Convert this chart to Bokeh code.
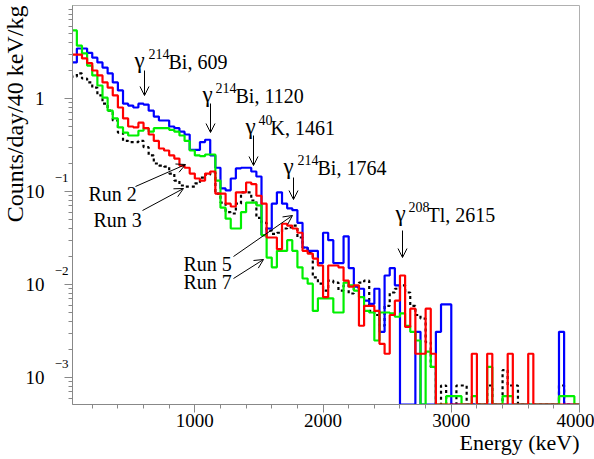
import math
from bokeh.plotting import figure
from bokeh.models import Label, Arrow, OpenHead, FixedTicker, Range1d, LogAxis, Title
from bokeh.embed import file_html
from bokeh.resources import INLINE

# ---------------- data (counts/day/40 keV/kg), bins of 40 keV starting at 0 keV -------------
bin_edges_kev = list(range(0, 4001, 40))

run2_red = [1.0,
    2.97, 2.97, 2.7, 2.4, 2.0, 1.77, 1.49, 1.31, 1.08, 0.8,
    0.61, 0.5, 0.49, 0.55, 0.48, 0.41, 0.35, 0.29, 0.276, 0.244,
    0.226, 0.19, 0.18, 0.156, 0.138, 0.131, 0.156, 0.164, 0.095, 0.095,
    0.074, 0.069, 0.098, 0.098, 0.125, 0.12, 0.09, 0.074, 0.032, 0.032,
    0.024, 0.045, 0.043, 0.04, 0.036, 0.023, 0.0215, 0.019, 0.016, 0.0073,
    0.016, 0.016, 0.0153, 0.011, 0.0095, 0.0098, 0.0036, 0.0059, 0.0059, 0.0052,
    0.0023, 0.0018, 0.0047, 0.0067, 0.0125, 0.0035, 0.0055, 0.0018, 0.0018, 0.0055,
    0.0018, 0, 0, 0, 0, 0, 0, 0, 0.0018, 0,
    0, 0.0018, 0, 0, 0, 0.0018, 0, 0, 0, 0.0018,
    0, 0, 0, 0, 0, 0, 0, 0, 0]

run3_black = [0.9,
    1.72, 1.86, 1.64, 1.49, 1.31, 1.08, 0.88, 0.74, 0.58, 0.43,
    0.35, 0.34, 0.34, 0.35, 0.3, 0.244, 0.2, 0.19, 0.185, 0.156,
    0.131, 0.116, 0.113, 0.113, 0.122, 0.141, 0.152, 0.16, 0.095, 0.076,
    0.06, 0.058, 0.074, 0.098, 0.098, 0.08, 0.052, 0.046, 0.038, 0.035,
    0.036, 0.04, 0.041, 0.043, 0.032, 0.025, 0.022, 0.0119, 0.0102, 0.0086,
    0.011, 0.0105, 0.0086, 0.0098, 0.008, 0.0093, 0.0105, 0.011, 0.0052, 0.0047,
    0.0036, 0.0059, 0.0082, 0.009, 0.0098, 0.0082, 0.0059, 0.0047, 0.0043, 0.0024,
    0.0013, 0, 0.00082, 0, 0, 0.00082, 0.00082, 0, 0, 0,
    0, 0.00082, 0, 0, 0.0012, 0.00082, 0.00082, 0, 0, 0,
    0, 0, 0, 0, 0, 0.00082, 0, 0, 0]

run5_blue = [4.2,
    2.44, 3.45, 3.45, 3.1, 2.75, 2.44, 2.15, 1.86, 1.49, 1.22,
    0.88, 0.84, 0.8, 0.88, 0.86, 0.74, 0.64, 0.58, 0.58, 0.5,
    0.48, 0.44, 0.41, 0.28, 0.28, 0.34, 0.36, 0.244, 0.18, 0.108,
    0.103, 0.138, 0.177, 0.18, 0.18, 0.164, 0.145, 0.034, 0.04, 0.074,
    0.098, 0.074, 0.066, 0.063, 0.046, 0.025, 0.023, 0.023, 0.017, 0.036,
    0.03, 0.017, 0.017, 0.033, 0.015, 0.0095, 0.009, 0.0067, 0.0062, 0.009,
    0.0031, 0.0125, 0.015, 0.0098, 0, 0, 0, 0.0031, 0, 0,
    0, 0.0031, 0.0061, 0.0061, 0, 0, 0, 0, 0, 0,
    0, 0, 0, 0, 0, 0, 0, 0, 0, 0,
    0, 0, 0, 0, 0, 0.0031, 0, 0, 0]

run7_green = [30.0,
    5.4, 3.7, 3.05, 2.26, 1.77, 1.38, 1.02, 0.74, 0.61, 0.49,
    0.43, 0.4, 0.4, 0.45, 0.48, 0.44, 0.48, 0.48, 0.48, 0.46,
    0.44, 0.4, 0.35, 0.276, 0.244, 0.24, 0.25, 0.25, 0.131, 0.067,
    0.051, 0.04, 0.04, 0.06, 0.076, 0.076, 0.071, 0.034, 0.0195, 0.0153,
    0.023, 0.023, 0.03, 0.023, 0.0153, 0.0116, 0.0102, 0.0052, 0.0071, 0.0071,
    0.0071, 0.005, 0.005, 0.0105, 0.0098, 0.0086, 0.0073, 0.0052, 0.005, 0.0025,
    0.005, 0.005, 0.0049, 0.0045, 0.0049, 0.0036, 0.0031, 0.0025, 0, 0.0019,
    0.0013, 0, 0, 0.00063, 0.00063, 0.00063, 0, 0, 0.00063, 0,
    0, 0.0013, 0, 0, 0.00063, 0.00063, 0, 0, 0, 0,
    0, 0, 0, 0, 0, 0.00063, 0.00063, 0.00063, 0]

y_major_ticks = [1e-3, 1e-2, 1e-1, 1.0]
y_tick_base_labels = ["10", "10", "10", "1"]
y_tick_exponent_labels = ["\u22123", "\u22122", "\u22121", ""]
x_major_ticks = [1000, 2000, 3000, 4000]

peaks = [  # (isotope mass number, element + energy text)
    ("214", "Bi, 609"),
    ("214", "Bi, 1120"),
    ("40", "K, 1461"),
    ("214", "Bi, 1764"),
    ("208", "Tl, 2615"),
]
run_names = ["Run 2", "Run 3", "Run 5", "Run 7"]

for arr in (run2_red, run3_black, run5_blue, run7_green):
    assert len(arr) == len(bin_edges_kev) - 1, len(arr)

# ---------------- geometry (page pixels) ----------------
W, H = 594, 459
X_MIN, X_MAX = 46.0, 4000.0
PX_LEFT, PX_RIGHT, PX_TOP, PX_BOTTOM = 72.0, 579.0, 5.0, 404.0
PX_PER_KEV = (PX_RIGHT - PX_LEFT) / (X_MAX - X_MIN)
PX_ONE, PX_DECADE = 98.0, 93.0
Y_MAX = 10 ** ((PX_ONE - PX_TOP) / PX_DECADE)
Y_MIN = 10 ** ((PX_ONE - PX_BOTTOM) / PX_DECADE)

def ex(px):
    return X_MIN + (px - PX_LEFT) / PX_PER_KEV

def vy(py):
    return 10 ** ((PX_ONE - py) / PX_DECADE)

FONT = "Liberation Serif"

p = figure(width=W, height=H, y_axis_type="log", output_backend="svg",
           toolbar_location=None, title=None, x_range=Range1d(X_MIN, X_MAX),
           y_range=Range1d(Y_MIN, Y_MAX))
p.min_border_left = int(PX_LEFT)
p.min_border_right = int(W - PX_RIGHT)
p.min_border_top = int(PX_TOP)
p.min_border_bottom = int(H - PX_BOTTOM)
p.background_fill_color = "white"
p.border_fill_color = "white"
p.outline_line_color = "#b0b0b0"
p.outline_line_width = 1
p.xgrid.visible = False
p.ygrid.visible = False

# ---------------- axes ----------------
minor_x = [v for v in range(200, 4000, 200) if v not in x_major_ticks]
p.xaxis.ticker = FixedTicker(ticks=x_major_ticks, minor_ticks=minor_x)
minor_y = []
for dec in (1e-4, 1e-3, 1e-2, 1e-1, 1.0):
    for m in range(2, 10):
        minor_y.append(m * dec)

inner = p.yaxis[0]
inner.ticker = FixedTicker(ticks=y_major_ticks, minor_ticks=minor_y)
inner.major_label_overrides = {t: (e + "\n" if e else "")
                               for t, e in zip(y_major_ticks, y_tick_exponent_labels)}
inner.major_label_text_font = FONT
inner.major_label_text_font_size = "13px"
inner.major_label_text_line_height = 1.85
inner.major_label_standoff = -4
inner.major_label_text_color = "black"

outer = LogAxis(ticker=FixedTicker(ticks=y_major_ticks, minor_ticks=[]))
outer.major_label_overrides = {t: b for t, b in zip(y_major_ticks, y_tick_base_labels)}
outer.major_label_text_font = FONT
outer.major_label_text_font_size = "19px"
outer.major_label_text_color = "black"
outer.major_label_standoff = 7
outer.major_tick_out = 0
outer.major_tick_in = 0
outer.minor_tick_out = 0
outer.minor_tick_in = 0
outer.axis_line_color = None
outer.major_tick_line_color = None
outer.minor_tick_line_color = None
p.add_layout(outer, "left")

for ax in (p.xaxis[0], inner):
    ax.axis_line_color = "#888888"
    ax.major_tick_line_color = "#888888"
    ax.minor_tick_line_color = "#888888"
    ax.major_tick_in = 0
    ax.major_tick_out = 8
    ax.minor_tick_in = 0
    ax.minor_tick_out = 4
p.xaxis.major_label_text_font = FONT
p.xaxis.major_label_text_font_size = "19px"
p.xaxis.major_label_text_color = "black"
p.xaxis.major_label_standoff = 1

ytitle = Title(text="Counts/day/40 keV/kg", align="right", text_font=FONT,
               text_font_size="24px", text_font_style="normal", text_color="black",
               standoff=-10, offset=0)
p.add_layout(ytitle, "left")
xtitle = Title(text="Energy (keV)", align="right", text_font=FONT,
               text_font_size="22px", text_font_style="normal", text_color="black",
               standoff=-3, offset=0)
p.add_layout(xtitle, "below")

# ---------------- histograms ----------------
def step_xy(values):
    ys = [v if v > 0 else Y_MIN for v in values]
    return bin_edges_kev, ys + [ys[-1]]

series = [
    (run3_black, "black", "3 3"),
    (run5_blue, "#0000ff", "solid"),
    (run7_green, "#00f000", "solid"),
    (run2_red, "#ff0000", "solid"),
]
for vals, col, dash in series:
    xs, ys = step_xy(vals)
    p.step(xs, ys, mode="after", line_color=col, line_width=2.2, line_dash=dash)

# ---------------- annotations ----------------
def add_label(x, y, text, size="20px", align="left"):
    p.add_layout(Label(x=x, y=y, text=text, text_font=FONT, text_font_size=size,
                       text_color="black", text_align=align,
                       text_baseline="alphabetic"))

def add_arrow(x0, y0, x1, y1):
    p.add_layout(Arrow(x_start=x0, y_start=y0, x_end=x1, y_end=y1,
                       line_width=1, line_color="black",
                       end=OpenHead(size=9, line_width=1, line_color="black")))

# (gamma px x, baseline px y, superscript px x, text px x, arrow px x, arrow top, arrow tip)
peak_px = [
    (134, 61, 148, 168, 144, 70, 95),
    (202, 95, 215, 235, 210, 103, 132),
    (245, 127, 258, 270, 253, 135, 165),
    (283, 167, 297, 317, 293, 177, 199),
    (395, 214, 408, 427, 402, 230, 257),
]
for (sup, txt), (gx, by, sx, tx, axp, at, ab) in zip(peaks, peak_px):
    add_label(ex(gx), vy(by - 1), "\u03b3", size="23px")
    add_label(ex(sx), vy(by - 8), sup, size="14px")
    add_label(ex(tx), vy(by), txt)
    add_arrow(ex(axp), vy(at), ex(axp), vy(ab))

# text (x, baseline), arrow tail, arrow tip  (page px)
run_px = [
    ((88, 193), (135, 186), (185, 164)),
    ((93, 219), (142, 210), (183, 188)),
    ((183, 263), (233, 256), (292, 215)),
    ((183, 281), (233, 278), (263, 259)),
]
for name, (tp, tail, head) in zip(run_names, run_px):
    add_label(ex(tp[0]), vy(tp[1]), name)
    add_arrow(ex(tail[0]), vy(tail[1]), ex(head[0]), vy(head[1]))

open("out.html", "w").write(file_html(p, INLINE))
